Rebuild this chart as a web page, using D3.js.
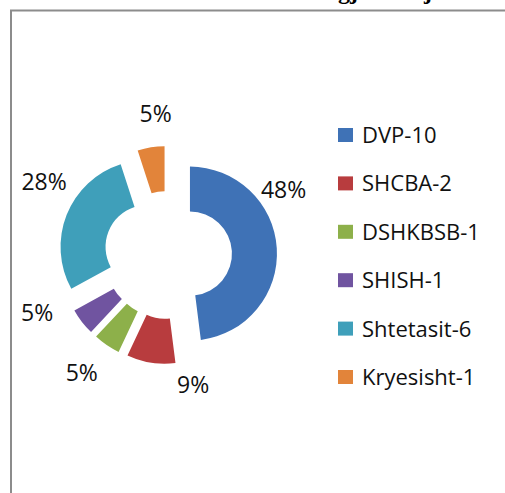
<!DOCTYPE html>
<html>
<head>
<meta charset="utf-8">
<script src="https://cdn.jsdelivr.net/npm/d3@7"></script>
<style>
  body { margin: 0; background: #fff; }
  svg { display: block; font-family: "Open Sans", sans-serif; }
</style>
</head>
<body>
<svg width="505" height="493"></svg>
<script>
// data
const categories = ['DVP-10', 'SHCBA-2', 'DSHKBSB-1', 'SHISH-1', 'Shtetasit-6', 'Kryesisht-1'];
const values = [48, 9, 5, 5, 28, 5];
const colors = ['#3f72b6', '#b83c3e', '#8db04a', '#7054a0', '#3f9fba', '#e2843a'];
// label nudges (degrees off the slice middle) as they sit in the original
const labelShift = [-26, -20, 2, 14, 9, 4];

const svg = d3.select('svg');

// frame of the cropped figure
svg.append('path')
  .attr('d', 'M11,493 V10.5 H505')
  .attr('fill', 'none')
  .attr('stroke', '#8c8c8c')
  .attr('stroke-width', 2);

// cut-off title, only the descenders are left in the picture
svg.append('text')
  .attr('x', 338).attr('y', -1)
  .style('font-family', '"Liberation Serif", serif')
  .style('font-weight', 'bold')
  .style('font-size', '24px')
  .text('gj');
svg.append('text')
  .attr('x', 424).attr('y', -1)
  .style('font-family', '"Liberation Serif", serif')
  .style('font-weight', 'bold')
  .style('font-size', '24px')
  .text('j');

const cx = 168, cy = 255;
const outerR = 87, innerR = 42, explode = 22;

const pie = d3.pie().sort(null).value(d => d);
const arcs = pie(values);
const arc = d3.arc().innerRadius(innerR).outerRadius(outerR);

const chartG = svg.append('g').attr('transform', `translate(${cx}, ${cy})`);

chartG.selectAll('path.slice')
  .data(arcs)
  .enter()
  .append('path')
  .attr('class', 'slice')
  .attr('d', arc)
  .attr('fill', (_, i) => colors[i])
  .attr('transform', d => {
    const mid = (d.startAngle + d.endAngle) / 2;
    return `translate(${Math.sin(mid) * explode}, ${-Math.cos(mid) * explode})`;
  });

const labelR = [133, 132, 146, 143, 144, 142];
chartG.selectAll('text.pct')
  .data(arcs)
  .enter()
  .append('text')
  .attr('class', 'pct')
  .attr('text-anchor', 'middle')
  .attr('dy', '0.36em')
  .attr('x', (d, i) => Math.sin((d.startAngle + d.endAngle) / 2 + labelShift[i] * Math.PI / 180) * labelR[i])
  .attr('y', (d, i) => -Math.cos((d.startAngle + d.endAngle) / 2 + labelShift[i] * Math.PI / 180) * labelR[i])
  .style('font-size', '23px')
  .style('fill', '#111')
  .text(d => `${d.value}%`);

// legend
const legendY = d3.scalePoint().domain(categories).range([135, 377]);

const legendG = svg.append('g')
  .selectAll('g')
  .data(categories)
  .enter()
  .append('g')
  .attr('transform', d => `translate(338, ${legendY(d)})`);

legendG.append('rect')
  .attr('x', 0)
  .attr('y', -7)
  .attr('width', 15)
  .attr('height', 14)
  .attr('fill', (_, i) => colors[i]);

legendG.append('text')
  .attr('x', 24)
  .attr('dy', '0.36em')
  .style('font-size', '22px')
  .style('fill', '#111')
  .text(d => d);
</script>
</body>
</html>
